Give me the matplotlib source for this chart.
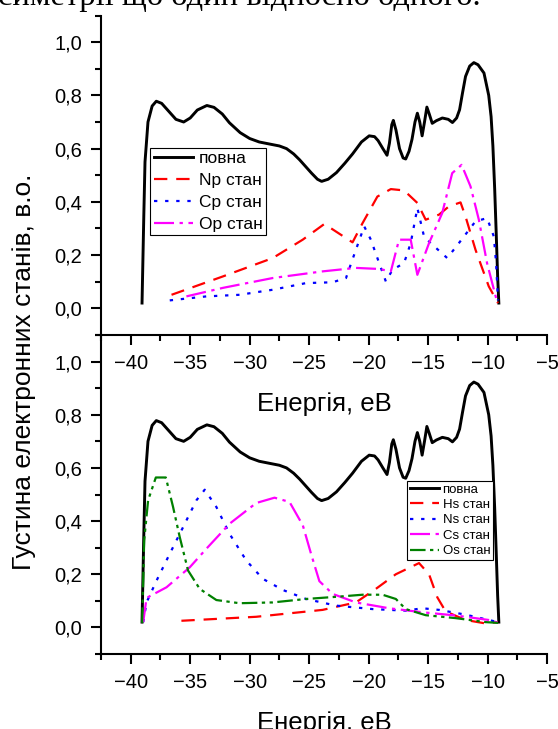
import numpy as np
import matplotlib.pyplot as plt
from matplotlib.ticker import MultipleLocator, FuncFormatter

plt.rcParams['font.family'] = ['Liberation Sans', 'DejaVu Sans']

# Повна густина станів (однакова для обох панелей)
x_total = [-39.05, -38.9, -38.8, -38.55, -38.2, -37.85, -37.4, -36.8, -36.2, -35.55,
           -35.0, -34.4, -33.6, -33.0, -32.3, -31.7, -30.8, -30.0, -29.2, -28.3,
           -27.5, -26.9, -26.3, -25.8, -24.8, -24.3, -23.95, -23.4, -22.7, -22.0,
           -21.35, -20.6, -19.95, -19.5, -19.2, -18.8, -18.45, -18.25, -18.05, -17.92,
           -17.7, -17.4, -17.1, -16.88, -16.6, -16.35, -16.1, -15.9, -15.7, -15.5,
           -15.3, -15.1, -14.9, -14.65, -14.3, -13.8, -13.3, -12.95, -12.6, -12.35,
           -12.1, -11.85, -11.5, -11.15, -10.8, -10.3, -9.9, -9.7, -9.55, -9.4,
           -9.28, -9.15, -9.05]
y_total = [0.02, 0.35, 0.55, 0.70, 0.76, 0.778, 0.77, 0.74, 0.71, 0.70,
           0.715, 0.745, 0.762, 0.755, 0.73, 0.697, 0.66, 0.638, 0.625, 0.617,
           0.61, 0.60, 0.58, 0.558, 0.508, 0.485, 0.477, 0.485, 0.51, 0.545,
           0.58, 0.625, 0.648, 0.645, 0.63, 0.60, 0.575, 0.62, 0.69, 0.706,
           0.67, 0.60, 0.565, 0.561, 0.59, 0.635, 0.70, 0.733, 0.70, 0.648,
           0.70, 0.756, 0.73, 0.695, 0.705, 0.715, 0.71, 0.698, 0.715, 0.746,
           0.81, 0.871, 0.91, 0.923, 0.915, 0.884, 0.80, 0.72, 0.61, 0.45,
           0.295, 0.12, 0.02]

# p-стани (верхня панель)
x_np = [-36.57, -32.25, -28.06, -25.54, -23.72, -21.35, -20.51, -19.26, -18.13, -17.02,
        -15.9, -15.2, -14.08, -13.25, -12.27, -11.85, -11.01, -9.9, -9.12]
y_np = [0.051, 0.12, 0.189, 0.258, 0.317, 0.248, 0.32, 0.42, 0.448, 0.443,
        0.396, 0.333, 0.352, 0.383, 0.398, 0.345, 0.22, 0.083, 0.02]

x_cp = [-36.72, -33.64, -30.85, -28.06, -25.26, -23.03, -21.9, -21.07, -20.37, -19.81,
        -19.11, -18.55, -17.99, -17.02, -16.46, -15.9, -15.34, -14.78, -13.39, -12.41,
        -11.01, -10.04, -9.47, -9.28, -9.12]
y_cp = [0.03, 0.045, 0.051, 0.07, 0.095, 0.098, 0.114, 0.22, 0.308, 0.258,
        0.17, 0.101, 0.145, 0.17, 0.245, 0.377, 0.27, 0.245, 0.189, 0.245,
        0.327, 0.339, 0.27, 0.17, 0.03]

x_op = [-35.32, -32.25, -28.06, -23.86, -21.07, -19.11, -18.13, -17.44, -16.46, -15.9,
        -14.92, -13.81, -12.97, -12.18, -11.43, -10.73, -10.04, -9.2]
y_op = [0.045, 0.077, 0.114, 0.139, 0.152, 0.148, 0.139, 0.258, 0.258, 0.126,
        0.245, 0.358, 0.508, 0.539, 0.458, 0.333, 0.17, 0.025]

# s-стани (нижня панель)
x_hs = [-35.74, -29.45, -23.86, -21.07, -19.39, -17.71, -15.76, -14.92, -14.22, -13.52,
        -11.85, -10.17, -9.12]
y_hs = [0.025, 0.04, 0.066, 0.094, 0.145, 0.2, 0.242, 0.2, 0.113, 0.06,
        0.028, 0.015, 0.02]

x_ns = [-38.95, -38.67, -37.83, -36.72, -35.6, -34.48, -33.78, -32.8, -31.69, -30.29,
        -28.9, -27.22, -25.26, -22.74, -19.67, -16.88, -15.48, -14.08, -11.85, -9.9, -9.12]
y_ns = [0.02, 0.094, 0.176, 0.277, 0.377, 0.478, 0.518, 0.453, 0.352, 0.252,
        0.183, 0.141, 0.107, 0.082, 0.069, 0.063, 0.072, 0.066, 0.048, 0.028, 0.02]

x_cs = [-38.95, -38.67, -36.99, -35.04, -33.64, -31.69, -29.45, -27.91, -26.65, -25.53,
        -24.84, -24.14, -23.02, -21.07, -18.27, -15.48, -12.69, -9.9, -9.12]
y_cs = [0.02, 0.111, 0.151, 0.226, 0.296, 0.39, 0.468, 0.488, 0.472, 0.384,
        0.277, 0.174, 0.126, 0.094, 0.072, 0.057, 0.045, 0.028, 0.018]

x_os = [-39.04, -38.87, -38.54, -37.89, -37.05, -36.44, -35.88, -35.18, -34.2, -32.8,
        -30.85, -28.06, -25.26, -22.46, -20.51, -18.83, -17.71, -16.88, -15.2, -12.69,
        -10.17, -9.12]
y_os = [0.017, 0.327, 0.478, 0.564, 0.564, 0.453, 0.34, 0.214, 0.145, 0.103,
        0.091, 0.094, 0.107, 0.116, 0.123, 0.123, 0.107, 0.069, 0.046, 0.035,
        0.02, 0.017]

W, H = 558, 729
fig = plt.figure(figsize=(W / 100, H / 100), dpi=100)
ax1 = fig.add_axes([101 / W, 1 - 335 / H, 446 / W, 319.5 / H], facecolor='none')
ax2 = fig.add_axes([101 / W, 1 - 654 / H, 446 / W, 319 / H], facecolor='none')

lw = 1.6
ax1.plot(x_total, y_total, color='black', lw=2.1, label='повна')
ax1.plot(x_np, y_np, color='red', lw=lw, dashes=(6, 4), label='Np стан')
ax1.plot(x_cp, y_cp, color='blue', lw=lw, dashes=(1.5, 3.5), label='Cp стан')
ax1.plot(x_op, y_op, color='magenta', lw=lw, dashes=(9, 2.5, 1.5, 2.5), label='Op стан')

ax2.plot(x_total, y_total, color='black', lw=2.1, label='повна')
ax2.plot(x_hs, y_hs, color='red', lw=lw, dashes=(6, 4), label='Hs стан')
ax2.plot(x_ns, y_ns, color='blue', lw=lw, dashes=(1.5, 3.5), label='Ns стан')
ax2.plot(x_cs, y_cs, color='magenta', lw=lw, dashes=(9, 2.5, 1.5, 2.5), label='Cs стан')
ax2.plot(x_os, y_os, color='green', lw=lw, dashes=(7, 2, 1.5, 2, 1.5, 2), label='Os стан')

comma = FuncFormatter(lambda v, p: f'{v:.1f}'.replace('.', ','))
for ax in (ax1, ax2):
    ax.set_xlim(-42.5, -5)
    ax.set_ylim(-0.1, 1.1)
    ax.xaxis.set_major_locator(MultipleLocator(5))
    ax.xaxis.set_minor_locator(MultipleLocator(2.5))
    ax.yaxis.set_major_locator(MultipleLocator(0.2))
    ax.yaxis.set_minor_locator(MultipleLocator(0.1))
    ax.yaxis.set_major_formatter(comma)
    ax.spines['top'].set_visible(False)
    ax.spines['right'].set_visible(False)
    ax.spines['left'].set_linewidth(1.5)
    ax.spines['bottom'].set_linewidth(1.5)
    ax.tick_params(which='major', direction='out', length=7.5, width=1.5,
                   labelsize=14.5, pad=6)
    ax.tick_params(which='minor', direction='out', length=4.5, width=1.5)
    ax.set_xlabel('Енергія, еВ', fontsize=18.5, labelpad=14)

leg1 = ax1.legend(loc='upper left', bbox_to_anchor=(0.11, 0.586), borderaxespad=0,
                  fontsize=12.5, labelspacing=0.38, handlelength=2.3, handletextpad=0.3,
                  borderpad=0.2, fancybox=False, framealpha=1, edgecolor='black')
leg1.get_frame().set_linewidth(0.8)
leg2 = ax2.legend(loc='upper left', bbox_to_anchor=(0.686, 0.543), borderaxespad=0,
                  fontsize=9.5, labelspacing=0.24, handlelength=2.2, handletextpad=0.3,
                  borderpad=0.2, fancybox=False, framealpha=1, edgecolor='black')
leg2.get_frame().set_linewidth(0.8)

fig.text(24 / W, 1 - 372 / H, 'Густина електронних станів, в.о.', rotation=90,
         fontsize=19, ha='center', va='center')

# обрізаний рядок тексту над рисунком
fig.text(-2 / W, 1 - 5 / H, 'симетрії що один відносно одного.',
         family='Liberation Serif', fontsize=23.4, ha='left', va='baseline')

fig.savefig('out.png', dpi=100, facecolor='white')
